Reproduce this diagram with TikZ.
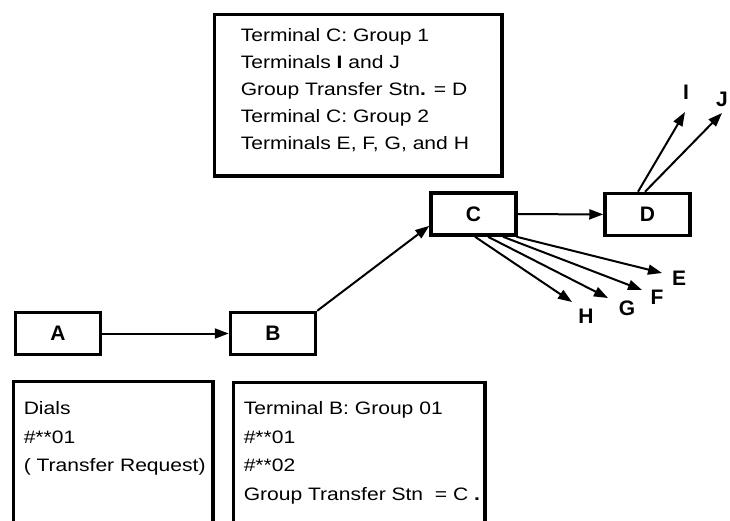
\documentclass[tikz,border=0pt]{standalone}
\usepackage{fontspec}
\setmainfont{Liberation Sans}
\newfontfamily\notefont[FakeStretch=1.17]{Liberation Sans}
\usetikzlibrary{arrows.meta,calc}
\begin{document}
\begin{tikzpicture}[x=1pt,y=-1pt,
    stn/.style={draw,line width=3.5pt,minimum width=85pt,minimum height=42pt,font=\fontsize{21}{25}\selectfont\bfseries},
    note/.style={draw,line width=3.5pt,anchor=north west,inner sep=0pt},
    term/.style={inner sep=0pt,font=\fontsize{21}{25}\selectfont\bfseries},
    arr/.style={line width=2pt,-{Triangle[length=14pt,width=10pt]}}]
    \useasboundingbox (0,0) rectangle (730,520);

    \node[note] (groups) at (212.75,12.75) {\parbox[c][161.5pt][t]{287.5pt}{\raggedright\leftskip=26.25pt
        \notefont\fontsize{18}{27}\selectfont\rule{0pt}{27.25pt}Terminal C: Group 1\\
        Terminals \textbf{I} and J\\
        Group Transfer Stn\textbf{.} = D\\
        Terminal C: Group 2\\
        Terminals E, F, G, and H}};
    \node[note] (dials) at (11.75,379.75) {\parbox[c][150pt][t]{199.5pt}{\raggedright\leftskip=10.25pt
        \notefont\fontsize{18}{28.6}\selectfont\rule{0pt}{33.25pt}Dials\\
        \#**01\\
        ( Transfer Request)}};
    \node[note] (groupb) at (231.75,380.75) {\parbox[c][150pt][t]{251.5pt}{\raggedright\leftskip=10.25pt
        \notefont\fontsize{18}{28.6}\selectfont\rule{0pt}{32.25pt}Terminal B: Group 01\\
        \#**01\\
        \#**02\\
        Group Transfer Stn\ \ = C \textbf{.}}};

    \node[stn] (A) at (58,333.5) {A};
    \node[stn] (B) at (273,333.5) {B};
    \node[stn] (C) at (473.5,214) {C};
    \node[stn] (D) at (647.5,214.5) {D};

    \node[term] (E) at (679,278) {E};
    \node[term] (F) at (657,297) {F};
    \node[term] (G) at (627,308) {G};
    \node[term] (H) at (586,316) {H};
    \node[term] (I) at (686,92) {I};
    \node[term] (J) at (722,99) {J};

    \coordinate (tipE) at (662,273); \coordinate (tipF) at (642,290);
    \coordinate (tipG) at (608,298); \coordinate (tipH) at (572,302);
    \coordinate (tipI) at (685,112); \coordinate (tipJ) at (722,113);

    \draw[arr] (A) -- (B); \draw[arr] (B.north east) -- (C.195);
    \draw[arr] (C) -- (D);
    \draw[arr] ($(C.south)+(1.5,0)$) -- (tipH); \draw[arr] ($(C.south)+(14.5,0)$) -- (tipG);
    \draw[arr] ($(C.south)+(29.5,0)$) -- (tipF); \draw[arr] ($(C.south)+(43,0)$) -- (tipE);
    \draw[arr] ($(D.north)+(-9.5,0)$) -- (tipI); \draw[arr] ($(D.north)+(-2.5,0)$) -- (tipJ);
\end{tikzpicture}
\end{document}
